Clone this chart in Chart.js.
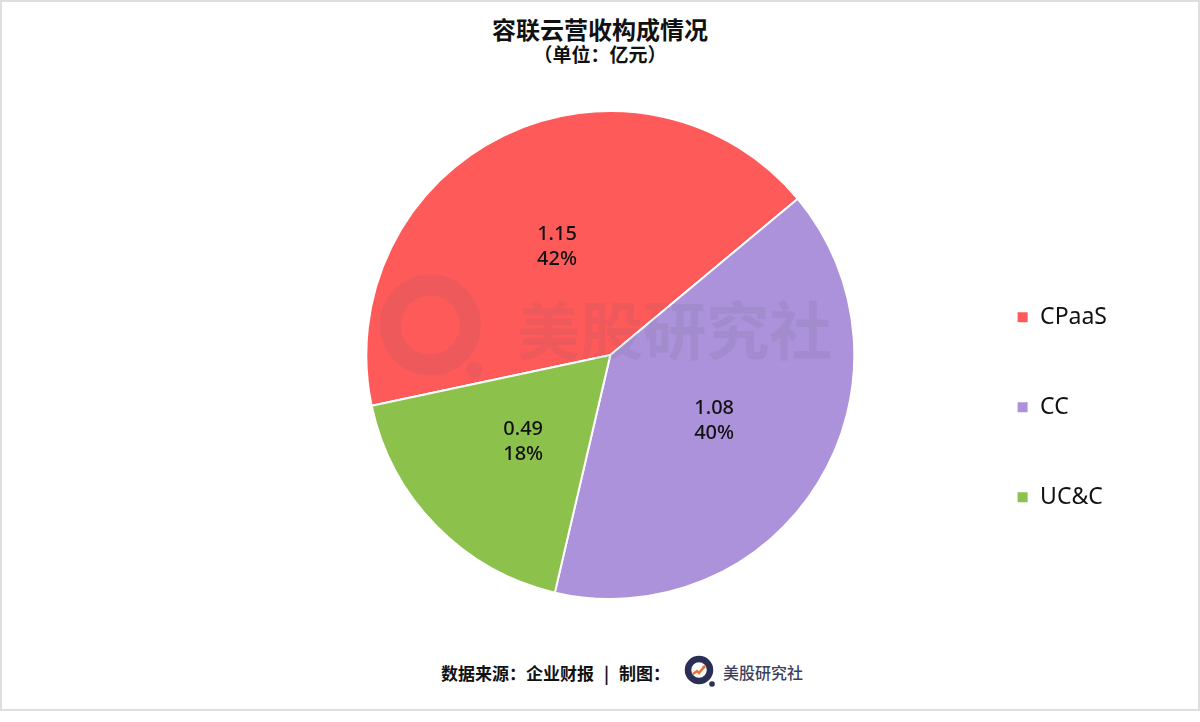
<!DOCTYPE html>
<html lang="zh-CN">
<head>
<meta charset="UTF-8">
<title>容联云营收构成情况</title>
<script src="https://cdn.jsdelivr.net/npm/chart.js@4/dist/chart.umd.min.js"></script>
<style>
    html, body { margin: 0; padding: 0; background: #fff; }
    #frame {
        position: relative;
        width: 1200px;
        height: 722px;
        overflow: hidden;
        font-family: "Noto Sans CJK SC", "Noto Sans", sans-serif;
    }
    #box {
        position: absolute;
        left: 0; top: 0;
        width: 1196px; height: 707px;
        border: 2px solid #dedede;
        box-sizing: content-box;
    }
    #title {
        position: absolute; left: 0; width: 1200px; top: 13px;
        text-align: center; font-size: 24px; font-weight: bold; color: #111;
        line-height: 32px;
    }
    #subtitle {
        position: absolute; left: 0; width: 1200px; top: 41px;
        text-align: center; font-size: 19px; font-weight: bold; color: #111;
        line-height: 26px;
    }
    #chartWrap {
        position: absolute; left: 0; top: 110px; width: 1200px; height: 490px;
    }
    #footer {
        position: absolute; left: 22px; width: 1200px; top: 657px;
        display: flex; justify-content: center; align-items: center;
        font-size: 17px; font-weight: bold; color: #111; height: 30px;
    }
    #footer .sep { margin: 0 10px; }
    #footer .brand { color: #3b3f5c; font-weight: 500; margin-left: 5px; font-size: 16px; }
    #footer svg { margin-left: 14px; }
</style>
</head>
<body>
<div id="frame">
    <div id="box"></div>
    <div id="title">容联云营收构成情况</div>
    <div id="subtitle">（单位：亿元）</div>
    <div id="chartWrap"><canvas id="pieChart"></canvas></div>
    <div id="footer">
        <span>数据来源：企业财报</span><span class="sep">|</span><span>制图：</span>
        <svg width="34" height="34" viewBox="0 0 34 34">
            <circle cx="15" cy="15" r="11" fill="none" stroke="#2c2f55" stroke-width="6.5"/>
            <polyline points="9,19 13,16 15,18 20,12" fill="none" stroke="#f26b2a" stroke-width="2.4"/>
            <polygon points="18,11 22,10 21,14" fill="#f26b2a"/>
            <circle cx="28" cy="29" r="2.8" fill="#2c2f55"/>
        </svg>
        <span class="brand">美股研究社</span>
    </div>
</div>
<script>
// ===== 数据 =====
const categories = ['CPaaS', 'CC', 'UC&C'];
const revenueValues = [1.15, 1.08, 0.49];
const percentLabels = ['42%', '40%', '18%'];
const sliceColors = ['#ff5a5a', '#ac92da', '#8cc14c'];

// 水印：圆环 logo + 文字
const watermarkPlugin = {
    id: 'watermark',
    afterDatasetsDraw(chart) {
        const ctx = chart.ctx;
        const arc = chart.getDatasetMeta(0).data[0];
        if (!arc) return;
        const cx = arc.x, cy = arc.y;
        ctx.save();
        ctx.fillStyle = 'rgba(90, 90, 110, 0.10)';
        ctx.strokeStyle = 'rgba(90, 90, 110, 0.10)';
        // 圆环
        ctx.lineWidth = 21;
        ctx.beginPath();
        ctx.arc(cx - 180, cy - 30, 40, 0, Math.PI * 2);
        ctx.stroke();
        ctx.beginPath();
        ctx.arc(cx - 136, cy + 15, 8, 0, Math.PI * 2);
        ctx.fill();
        // 文字
        ctx.font = 'bold 63px "Noto Sans CJK SC"';
        ctx.textAlign = 'left';
        ctx.textBaseline = 'middle';
        ctx.fillText('美股研究社', cx - 93, cy - 25);
        ctx.restore();
    }
};

// 扇区内的数值 + 百分比
const sliceLabelPlugin = {
    id: 'sliceLabels',
    afterDatasetsDraw(chart) {
        const ctx = chart.ctx;
        const meta = chart.getDatasetMeta(0);
        ctx.save();
        ctx.font = '500 20px "Noto Sans", "Noto Sans CJK SC", sans-serif';
        ctx.fillStyle = '#111';
        ctx.textAlign = 'center';
        ctx.textBaseline = 'middle';
        meta.data.forEach((arc, i) => {
            const p = arc.tooltipPosition();
            ctx.fillText(revenueValues[i].toFixed(2), p.x, p.y - 11);
            ctx.fillText(percentLabels[i], p.x, p.y + 14);
        });
        ctx.restore();
    }
};

new Chart(document.getElementById('pieChart'), {
    type: 'pie',
    data: {
        labels: categories,
        datasets: [{
            data: revenueValues,
            backgroundColor: sliceColors,
            borderColor: '#ffffff',
            borderWidth: 2
        }]
    },
    options: {
        responsive: true,
        maintainAspectRatio: false,
        animation: false,
        rotation: 258,
        layout: { padding: { left: 271, right: 83, top: 0, bottom: 0 } },
        plugins: {
            tooltip: { enabled: false },
            legend: {
                position: 'right',
                // 用空标题把图例整体往下推
                title: { display: true, text: '', padding: { top: 0, bottom: 90 } },
                labels: {
                    boxWidth: 12,
                    boxHeight: 12,
                    padding: 67,
                    color: '#111',
                    font: { size: 23, family: '"Noto Sans", "Noto Sans CJK SC", sans-serif' }
                }
            }
        }
    },
    plugins: [watermarkPlugin, sliceLabelPlugin]
});
</script>
</body>
</html>
